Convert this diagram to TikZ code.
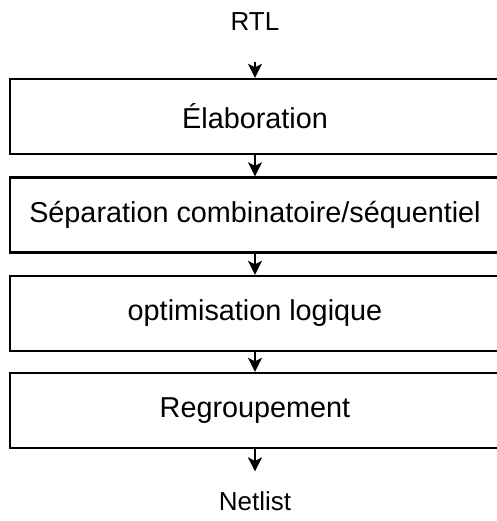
\documentclass[tikz,border=0pt]{standalone}
\usepackage{fontspec}
\setmainfont{Liberation Sans}
\usetikzlibrary{arrows.meta,positioning}

\begin{document}
\begin{tikzpicture}[
  x=0.5pt, y=-0.5pt,
  stage/.style={rectangle, draw, line width=1.2pt, align=center,
                font=\fontsize{14.4}{17}\selectfont,
                minimum width=245pt, minimum height=37.5pt, inner sep=0pt},
  label/.style={font=\fontsize{13}{15}\selectfont},
  flow/.style={draw, line width=1.2pt, -{Stealth[length=7pt,width=7pt,inset=1.8pt]}},
]
  \useasboundingbox (0,0) rectangle (497,521);

  % input and output
  \node[label] (rtl) at (255,21.5) {RTL};
  \node[label] (netlist) at (255,501) {Netlist};

  % synthesis stages
  \node[stage] (elab) at (255,116.5) {Élaboration};
  \node[stage] (sep) at (255,215) {Séparation combinatoire/séquentiel};
  \node[stage] (opt) at (255,313.5) {optimisation logique};
  \node[stage] (regr) at (255,410.5) {Regroupement};

  % arrows
  \draw[flow, shorten <=12pt] (rtl) -- (elab);
  \draw[flow] (elab) -- (sep);
  \draw[flow] (sep) -- (opt);
  \draw[flow] (opt) -- (regr);
  \draw[flow, shorten >=6.5pt] (regr) -- (netlist);

\end{tikzpicture}
\end{document}
